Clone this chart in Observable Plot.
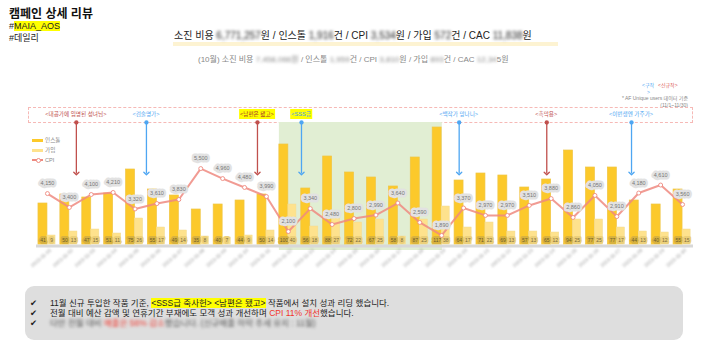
<!DOCTYPE html>
<html><head><meta charset="utf-8">
<script src="https://cdn.jsdelivr.net/npm/d3@7"></script>
<script src="https://cdn.jsdelivr.net/npm/@observablehq/plot@0.6"></script>
<style>
body{margin:0;background:#fff;font-family:"Liberation Sans","Noto Sans CJK KR",sans-serif;}
#page{position:relative;width:715px;height:354px;overflow:hidden;background:#fff;}
.abs{position:absolute;white-space:nowrap;line-height:1;}
.blur{display:inline-block;filter:blur(1.5px);}
.blur2{display:inline-block;filter:blur(1.8px);}
#bars,#cpi{position:absolute;left:0;top:70px;}
g[aria-label="cpi-labels"]{filter:blur(1.1px);}
g[aria-label="bar-labels"]{filter:blur(1px);}
g[aria-label="x-axis tick label"]{filter:blur(0.8px);}
.anno{position:absolute;top:111px;font-size:5.6px;line-height:7px;transform:translateX(-50%);white-space:nowrap;}
.hl{background:#ffff00;padding:2px 1px;}
.lg{position:absolute;font-size:5.6px;color:#888;line-height:6px;}
.sw{position:absolute;height:3px;width:11px;}
.note{position:absolute;font-size:5px;line-height:6px;white-space:nowrap;color:#888;}
.ln{position:absolute;left:30px;font-size:8.5px;line-height:10px;color:#222;white-space:nowrap;}
.ck{display:inline-block;width:20px;font-family:"DejaVu Sans";font-size:8.5px;}
</style></head>
<body><div id="page">
<div class="abs" style="left:9px;top:8px;font-size:12px;font-weight:bold;color:#111;">캠페인 상세 리뷰</div>
<div class="abs" style="left:9px;top:22px;font-size:9px;color:#222;">#<span style="background:#ffff00;">MAIA_AOS</span></div>
<div class="abs" style="left:9px;top:34px;font-size:9px;color:#222;">#데일리</div>

<div class="abs" style="left:173px;top:42px;width:385px;height:4px;background:#fdf3d2;"></div>
<div class="abs" style="left:174px;top:31px;font-size:10px;color:#222;">소진 비용 <span class="blur">6,771,257</span>원 / 인스톨 <span class="blur">1,916</span>건 / CPI <span class="blur">3,534</span>원 / 가입 <span class="blur">572</span>건 / CAC <span class="blur">11,838</span>원</div>
<div class="abs" style="left:198px;top:56px;font-size:8px;color:#888;">(10월) 소진 비용 <span class="blur">7,458,066원</span> / 인스톨 <span class="blur">1,959</span>건 / CPI <span class="blur">3,810</span>원 / 가입 <span class="blur">893</span>건 / CAC <span class="blur">12,34</span>5원</div>

<div class="note" style="left:642px;top:82px;color:#4ea6f2;">&lt;구작</div>
<div class="note" style="left:658px;top:82px;color:#d9534f;">&lt;신규작&gt;</div>
<div class="note" style="left:647px;top:89px;color:#4ea6f2;">&gt;</div>
<div class="note" style="right:27px;top:95px;">* AF Unique users 데이터 기준</div>
<div class="note" style="right:27px;top:102px;">(11/1~11/30)</div>

<div class="abs" style="left:28px;top:107px;width:663px;height:14px;border:1px dashed #f6b9b6;"></div>

<div id="bars"></div>
<div id="cpi"></div>
<div id="annos"></div>

<div class="sw" style="left:32px;top:138.5px;background:#fcc92b;"></div>
<div class="lg" style="left:45px;top:137px;">인스톨</div>
<div class="sw" style="left:32px;top:148.5px;background:#fee28d;"></div>
<div class="lg" style="left:45px;top:147px;">가입</div>
<div class="sw" style="left:32px;top:159px;height:1.5px;background:#ee8a80;"></div>
<div class="abs" style="left:35.5px;top:157.5px;width:3px;height:3px;border-radius:50%;border:0.8px solid #ee8a80;background:#fff;"></div>
<div class="lg" style="left:45px;top:157px;">CPI</div>

<div class="abs" style="left:25px;top:286px;width:658px;height:54px;background:#dedede;border-radius:9px;"></div>
<div class="ln" style="top:298px;"><span class="ck">✔</span>11월 신규 투입한 작품 기준, <span style="background:#ffff00;">&lt;SSS급 죽사헌&gt; &lt;남편은 됐고&gt;</span> 작품에서 설치 성과 리딩 했습니다.</div>
<div class="ln" style="top:308px;"><span class="ck">✔</span>전월 대비 예산 감액 및 연휴기간 부재에도 모객 성과 개선하며 <span style="color:#f0352b;">CPI 11% 개선</span>했습니다.</div>
<div class="ln" style="top:318px;"><span class="ck">✔</span><span class="blur2" style="color:#555;">다만 전월 대비 <span style="color:#f0352b;">매출은 56% 감소</span>했습니다. (신규매출 하락 추세 유지 : 11월)</span></div>
</div>
<script>
// ---- data ----
const days = [1,2,3,4,5,6,7,8,9,10,11,12,13,14,15,16,17,18,19,20,21,22,23,24,25,26,27,28,29,30];
const dateLabels = ["2023-11-01","2023-11-02","2023-11-03","2023-11-04","2023-11-05","2023-11-06","2023-11-07","2023-11-08","2023-11-09","2023-11-10","2023-11-11","2023-11-12","2023-11-13","2023-11-14","2023-11-15","2023-11-16","2023-11-17","2023-11-18","2023-11-19","2023-11-20","2023-11-21","2023-11-22","2023-11-23","2023-11-24","2023-11-25","2023-11-26","2023-11-27","2023-11-28","2023-11-29","2023-11-30"];
const installs = [41,50,47,51,75,55,49,35,40,44,50,100,56,88,72,67,58,87,117,64,71,69,57,65,94,77,77,44,40,55];
const signups = [9,13,15,11,26,17,14,8,7,9,14,40,18,27,22,25,8,25,38,17,22,13,13,12,25,25,17,13,12,15];
const cpi = [4150,3400,4100,4210,3320,3610,3830,5500,4960,4480,3990,2100,3340,2480,2800,2990,3640,2590,1890,3370,2970,2970,3510,3880,2860,4050,2910,4180,4610,3560];
const annoDays = [2.32,5.52,10.59,12.6,19.8,23.8,27.67];
const annoTitles = ["<대공가에 임명된 성녀님>","<검술명가>","<남편은 됐고>","<SSS급","<백작가 망나니>","<흑막용>","<이번생엔 가주가>"];
const annoKinds = ["신규작","구작","신규작","구작","구작","신규작","구작"];
const annoHighlight = [false,false,true,true,false,false,false];
const sssPeriod = [{start:12, end:19}];

// ---- build ----
const rows = days.map((d,i)=>({day:d, installs:installs[i], signups:signups[i], cpi:cpi[i]}));
const annos = annoDays.map((d,i)=>({day:d, title:annoTitles[i], kind:annoKinds[i], hl:annoHighlight[i]}));
const kindColor = {"신규작":"#c0504d","구작":"#4ea6f2"};
const W=715,H=210,mt=34,mb=36,ml=36,mr=22, xDomain=[0.5,30.5];
const font = '"Liberation Sans","Noto Sans CJK KR",sans-serif';
const fmt = d3.format(",");

const bars = Plot.plot({
  width:W,height:H,marginTop:mt,marginBottom:mb,marginLeft:ml,marginRight:mr,
  x:{domain:xDomain,axis:null,label:null},
  y:{domain:[0,140],axis:null},
  style:{background:"transparent",overflow:"visible",fontFamily:font},
  marks:[
    Plot.rect(sssPeriod,{x1:d=>d.start-0.41,x2:d=>d.end+0.03,y1:-6,y2:122,fill:"#e1eed3"}),
    Plot.ruleY([0],{stroke:"#d8d8d8",strokeWidth:3,dy:1.5}),
    Plot.rectY(rows,{x1:d=>d.day-0.41,x2:d=>d.day,y:"installs",fill:"#fcc92b",stroke:"#efc545",strokeWidth:0.7}),
    Plot.rectY(rows,{x1:d=>d.day,x2:d=>d.day+0.37,y:"signups",fill:"#fee28d",stroke:"#f3dc94",strokeWidth:0.5}),
    Plot.text(rows,{x:d=>d.day-0.2,y:0,dy:-4,text:d=>fmt(d.installs),fontSize:5,fill:"#6b5a2a",stroke:"#d8b23e",strokeWidth:4,ariaLabel:"bar-labels"}),
    Plot.text(rows,{x:d=>d.day+0.19,y:0,dy:-4,text:d=>fmt(d.signups),fontSize:5,fill:"#7a6a3a",stroke:"#ecd07a",strokeWidth:4,ariaLabel:"bar-labels"}),
    Plot.link(annos,{x1:"day",x2:"day",y1:122,y2:71,stroke:d=>kindColor[d.kind],strokeWidth:1.3,markerStart:"dot",markerEnd:"arrow"}),
    Plot.axisX({ticks:days,tickFormat:d=>dateLabels[d-1],tickRotate:-42,tickSize:0,tickPadding:5,fontSize:5,fill:"#999",dx:3,label:null})
  ]
});
document.getElementById("bars").appendChild(bars);

const cpiPlot = Plot.plot({
  width:W,height:H,marginTop:mt,marginBottom:mb,marginLeft:ml,marginRight:mr,
  x:{domain:xDomain,axis:null},
  y:{domain:[1400,8960],axis:null},
  style:{background:"transparent",overflow:"visible",fontFamily:font},
  marks:[
    Plot.line(rows,{x:"day",y:"cpi",stroke:"#ee8a80",strokeWidth:2,strokeOpacity:0.85}),
    Plot.dot(rows,{x:"day",y:"cpi",r:2,fill:"#fff",stroke:"#ee8a80",strokeWidth:0.9}),
    Plot.text(rows,{x:"day",y:"cpi",dy:-10,text:d=>fmt(d.cpi),fontSize:5.5,fill:"#777",stroke:"#e2e2e2",strokeWidth:5,ariaLabel:"cpi-labels"})
  ]
});
document.getElementById("cpi").appendChild(cpiPlot);

const sx = bars.scale("x");
const host = document.getElementById("annos");
annos.forEach(a=>{
  const el = document.createElement("div");
  el.className="anno";
  el.style.left = sx.apply(a.day)+"px";
  const sp = document.createElement("span");
  sp.textContent = a.title;
  if(a.hl){ sp.className="hl"; sp.style.color = a.kind==="신규작" ? "#a3302a" : "#3f97e6"; }
  else sp.style.color = kindColor[a.kind];
  el.appendChild(sp);
  host.appendChild(el);
});
</script>
</body></html>
